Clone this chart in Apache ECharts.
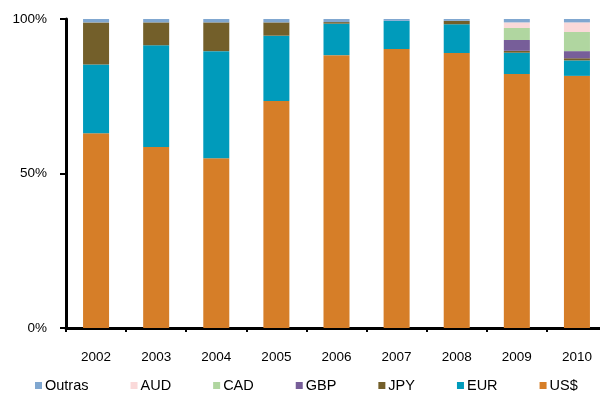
<!DOCTYPE html>
<html>
<head>
<meta charset="utf-8">
<script src="https://cdn.jsdelivr.net/npm/echarts@6/dist/echarts.min.js"></script>
<style>
  html, body { margin: 0; padding: 0; background: #ffffff; }
  #chart { width: 600px; height: 397px; }
</style>
</head>
<body>
<div id="chart"></div>
<script>
// Currency composition per year, in percent of total (stacked from bottom up)
const years = ['2002', '2003', '2004', '2005', '2006', '2007', '2008', '2009', '2010'];
const usd    = [63.0, 58.6, 54.9, 73.5, 88.3, 90.3, 89.0, 82.2, 81.6];
const eur    = [22.3, 32.9, 34.7, 21.1, 10.2,  9.1,  9.3,  6.9,  5.0];
const jpy    = [13.6,  7.4,  9.3,  4.3,  0.5,  0.0,  1.1,  0.6,  0.7];
const gbp    = [ 0.0,  0.0,  0.0,  0.0,  0.0,  0.0,  0.0,  3.5,  2.3];
const cad    = [ 0.0,  0.0,  0.0,  0.0,  0.0,  0.0,  0.0,  3.9,  6.2];
const aud    = [ 0.0,  0.0,  0.0,  0.0,  0.0,  0.0,  0.0,  1.8,  3.1];
const outras = [ 1.1,  1.1,  1.1,  1.1,  1.0,  0.6,  0.6,  1.1,  1.1];
const yTicks = [0, 50, 100];

const seriesDefs = [
  { name: 'US$',    data: usd,    color: '#D67E28' },
  { name: 'EUR',    data: eur,    color: '#009BBB' },
  { name: 'JPY',    data: jpy,    color: '#735F2A' },
  { name: 'GBP',    data: gbp,    color: '#775E99' },
  { name: 'CAD',    data: cad,    color: '#B0D6A0' },
  { name: 'AUD',    data: aud,    color: '#FAD9D9' },
  { name: 'Outras', data: outras, color: '#80A7D0' }
];

const font = 'Liberation Sans, Arial, sans-serif';
const chart = echarts.init(document.getElementById('chart'), null, { renderer: 'canvas' });

chart.setOption({
  animation: false,
  backgroundColor: '#ffffff',
  // plot runs past the right edge so the last category is partly cut off
  grid: {
    left: 66, top: 19, width: 541, height: 309,
    containLabel: false,
    outerBoundsMode: 'none'
  },
  legend: {
    data: ['Outras', 'AUD', 'CAD', 'GBP', 'JPY', 'EUR', 'US$'],
    left: 30,
    top: 373,
    itemWidth: 7,
    itemHeight: 7,
    itemGap: 42,
    icon: 'rect',
    textStyle: { fontFamily: font, fontSize: 14.5, color: '#000', padding: [0, 0, 0, -2] }
  },
  xAxis: {
    type: 'category',
    data: years,
    axisLine: { show: true, lineStyle: { color: '#000', width: 3 } },
    axisTick: { show: true, length: 4, lineStyle: { color: '#000', width: 2 } },
    axisLabel: { fontFamily: font, fontSize: 13.5, color: '#000', margin: 22 }
  },
  yAxis: {
    type: 'value',
    min: yTicks[0],
    max: yTicks[yTicks.length - 1],
    interval: 50,
    axisLine: { show: true, lineStyle: { color: '#000', width: 3 } },
    axisTick: { show: true, length: 6, lineStyle: { color: '#000', width: 2 } },
    splitLine: { show: false },
    axisLabel: { fontFamily: font, fontSize: 13.5, color: '#000', margin: 19, formatter: '{value}%' }
  },
  series: seriesDefs.map(s => ({
    name: s.name,
    type: 'bar',
    stack: 'total',
    barWidth: 26,
    data: s.data,
    itemStyle: { color: s.color },
    emphasis: { disabled: true }
  }))
});
</script>
</body>
</html>
